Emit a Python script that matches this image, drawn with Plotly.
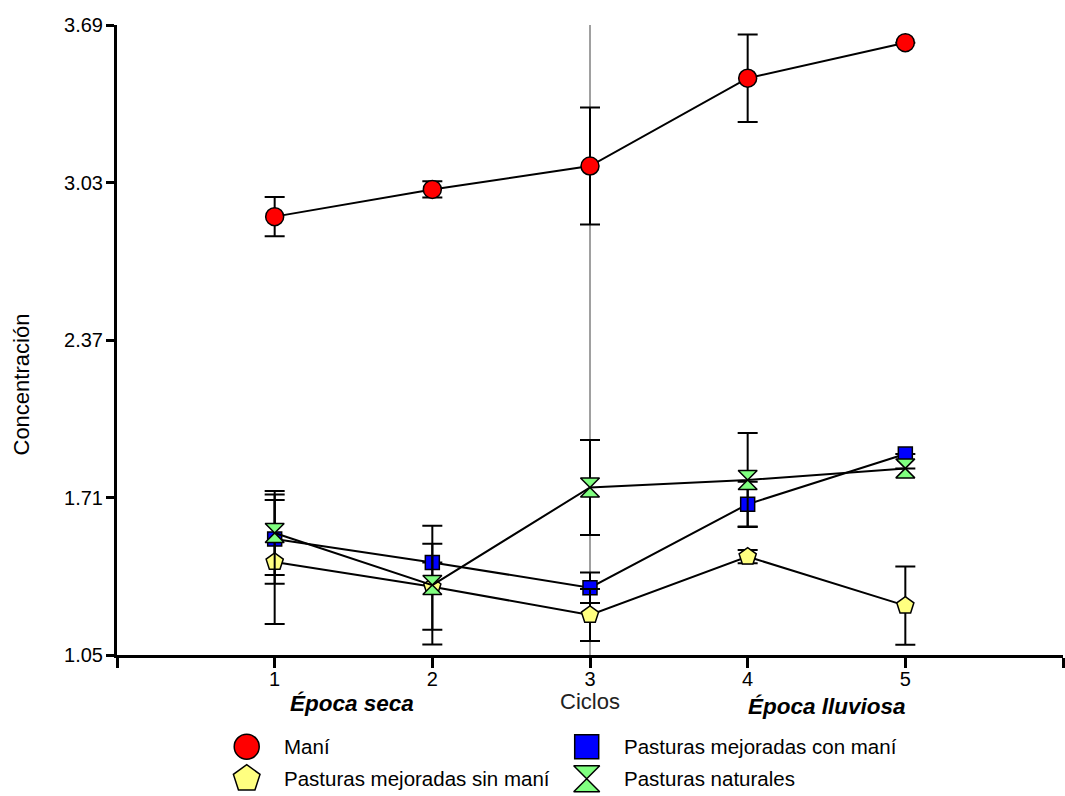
import plotly.graph_objects as go

# --- data -------------------------------------------------------------
ciclos = [1, 2, 3, 4, 5]

mani = [2.887, 3.001, 3.099, 3.467, 3.616]
mani_err = [0.082, 0.034, 0.245, 0.183, None]

con_mani = [1.536, 1.438, 1.332, 1.682, 1.892]
con_mani_err = [0.187, None, 0.064, 0.094, None]

sin_mani = [1.440, 1.336, 1.218, 1.462, 1.257]
sin_mani_err = [0.26, 0.18, 0.109, 0.028, 0.164]

naturales = [1.561, 1.343, 1.752, 1.783, 1.832]
naturales_err = [0.176, 0.249, 0.199, 0.197, None]

y_ticks = [1.05, 1.71, 2.37, 3.03, 3.69]
x_ticks = [0, 1, 2, 3, 4, 5, 6]
x_ticktext = ["", "1", "2", "3", "4", "5", ""]

names = ["Maní", "Pasturas mejoradas con maní",
         "Pasturas mejoradas sin maní", "Pasturas naturales"]

# --- styling ----------------------------------------------------------
FONT = "Liberation Sans, Arial, sans-serif"
series = [
    (mani, mani_err, "circle", "#ff0000", 18, 25),
    (con_mani, con_mani_err, "square", "#0000ff", 14, 24),
    (sin_mani, sin_mani_err, "pentagon", "#ffff80", 18, 28),
    (naturales, naturales_err, "hourglass", "#80ff80", 19, 26),
]
# legend grid: (column, row) for each series
legend_cells = [(0, 0), (1, 0), (0, 1), (1, 1)]

fig = go.Figure()

for (vals, err, sym, col, size, _), name in zip(series, names):
    fig.add_trace(go.Scatter(
        x=ciclos, y=vals, name=name, mode="lines+markers",
        line=dict(color="black", width=2),
        marker=dict(symbol=sym, color=col, size=size,
                    line=dict(color="black", width=1.5)),
        error_y=dict(type="data", array=err, visible=True,
                     color="black", thickness=2, width=10),
        showlegend=False, cliponaxis=False,
    ))

# hand-built key below the plot, on its own hidden axes
for (vals, err, sym, col, size, lsize), name, (cx, cy) in zip(series, names, legend_cells):
    fig.add_trace(go.Scatter(
        x=[cx], y=[cy], mode="markers", xaxis="x2", yaxis="y2",
        marker=dict(symbol=sym, color=col, size=lsize,
                    line=dict(color="black", width=1.5)),
        showlegend=False, hoverinfo="skip", cliponaxis=False,
    ))
    fig.add_annotation(
        x=cx + 0.103, y=cy, xref="x2", yref="y2", text=name,
        showarrow=False, xanchor="left", yanchor="middle",
        font=dict(family=FONT, size=20.5, color="black"),
    )

# vertical reference line at cycle 3
fig.add_shape(type="line", x0=3, x1=3, y0=y_ticks[0], y1=y_ticks[-1],
              xref="x", yref="y", layer="below",
              line=dict(color="#a0a0a0", width=2))

PLOT_H = 771          # figure height minus top margin
Y_DOM0 = 141 / PLOT_H


def paper_y(px):
    """Vertical pixel position (from top of figure) -> paper fraction."""
    return (796 - px) / PLOT_H


fig.update_layout(
    template="none",
    width=1065, height=796,
    margin=dict(l=117, r=2, t=25, b=0, pad=0, autoexpand=False),
    paper_bgcolor="white", plot_bgcolor="white",
    font=dict(family=FONT, size=20, color="black"),
    showlegend=False,
    xaxis=dict(
        range=[0, 6], domain=[0, 1], anchor="y", automargin=False,
        tickmode="array", tickvals=x_ticks, ticktext=x_ticktext,
        ticks="outside", ticklen=10, tickwidth=3, tickcolor="black",
        ticklabelstandoff=-6,
        showline=True, linewidth=3, linecolor="black",
        showgrid=False, zeroline=False,
        tickfont=dict(family=FONT, size=20),
    ),
    yaxis=dict(
        range=[y_ticks[0], y_ticks[-1]], domain=[Y_DOM0, 1], anchor="x",
        automargin=False,
        tickmode="array", tickvals=y_ticks, tickformat=".2f",
        ticks="outside", ticklen=8, tickwidth=3, tickcolor="black",
        ticklabelstandoff=-1,
        showline=True, linewidth=3, linecolor="black",
        showgrid=False, zeroline=False,
        tickfont=dict(family=FONT, size=20),
    ),
    xaxis2=dict(range=[-0.3815, 2.4009], domain=[0, 1], anchor="y2",
                visible=False, fixedrange=True, automargin=False),
    yaxis2=dict(range=[1.541, -2.866], domain=[0, Y_DOM0], anchor="x2",
                visible=False, fixedrange=True, automargin=False),
)

# axis titles and season labels
fig.add_annotation(x=3, y=paper_y(701), xref="x", yref="paper",
                   text="Ciclos", showarrow=False,
                   xanchor="center", yanchor="middle",
                   font=dict(family=FONT, size=22, color="#222222"))
fig.add_annotation(x=1.49, y=paper_y(703), xref="x", yref="paper",
                   text="<b><i>Época seca</i></b>", showarrow=False,
                   xanchor="center", yanchor="middle",
                   font=dict(family=FONT, size=22.5, color="black"))
fig.add_annotation(x=4.5, y=paper_y(706), xref="x", yref="paper",
                   text="<b><i>Época lluviosa</i></b>", showarrow=False,
                   xanchor="center", yanchor="middle",
                   font=dict(family=FONT, size=22.5, color="black"))
fig.add_annotation(x=-96.5 / 946, y=paper_y(385), xref="paper", yref="paper",
                   text="Concentración", textangle=-90, showarrow=False,
                   xanchor="center", yanchor="middle",
                   font=dict(family=FONT, size=22, color="black"))

fig.write_html("out.html")
